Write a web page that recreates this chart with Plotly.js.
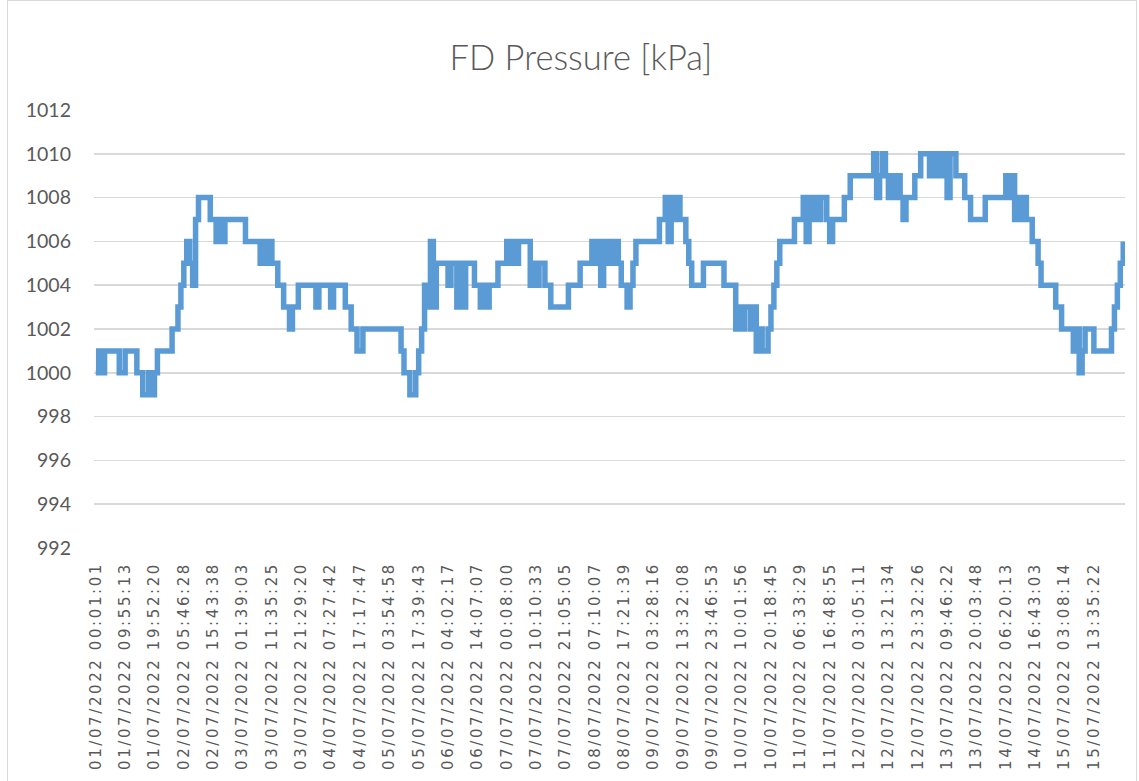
<!DOCTYPE html>
<html>
<head>
<meta charset="utf-8">
<script src="https://cdn.plot.ly/plotly-3.0.1.min.js"></script>
<style>
  html, body { margin: 0; padding: 0; background: #ffffff; }
  #chart { position: absolute; left: 0; top: 0; width: 1139px; height: 781px; }
  #frame { position: absolute; left: 7px; top: 0px; width: 1130px; height: 790px;
           border: 1px solid #d9d9d9; box-sizing: border-box; pointer-events: none; }
  .xtick text { letter-spacing: 2.6px; }
</style>
</head>
<body>
<div id="chart"></div>
<div id="frame"></div>
<script>
// Category tick labels (one every 10 samples)
const tickLabels = [
  "01/07/2022 00:01:01", "01/07/2022 09:55:13", "01/07/2022 19:52:20",
  "02/07/2022 05:46:28", "02/07/2022 15:43:38", "03/07/2022 01:39:03",
  "03/07/2022 11:35:25", "03/07/2022 21:29:20", "04/07/2022 07:27:42",
  "04/07/2022 17:17:47", "05/07/2022 03:54:58", "05/07/2022 17:39:43",
  "06/07/2022 04:02:17", "06/07/2022 14:07:07", "07/07/2022 00:08:00",
  "07/07/2022 10:10:33", "07/07/2022 21:05:05", "08/07/2022 07:10:07",
  "08/07/2022 17:21:39", "09/07/2022 03:28:16", "09/07/2022 13:32:08",
  "09/07/2022 23:46:53", "10/07/2022 10:01:56", "10/07/2022 20:18:45",
  "11/07/2022 06:33:29", "11/07/2022 16:48:55", "12/07/2022 03:05:11",
  "12/07/2022 13:21:34", "12/07/2022 23:32:26", "13/07/2022 09:46:22",
  "13/07/2022 20:03:48", "14/07/2022 06:20:13", "14/07/2022 16:43:03",
  "15/07/2022 03:08:14", "15/07/2022 13:35:22"
];
const samplesPerLabel = 10;

// FD pressure samples [kPa]
const pressure = [
  1000,1001,1000,1001,1001,1001,1001,1001,1000,1000,
  1001,1001,1001,1001,1000,1000,999,999,1000,999,
  1000,1001,1001,1001,1001,1001,1002,1002,1003,1004,
  1005,1006,1005,1004,1007,1008,1008,1008,1008,1007,
  1007,1006,1007,1006,1007,1007,1007,1007,1007,1007,
  1007,1006,1006,1006,1006,1006,1005,1006,1005,1006,
  1005,1005,1004,1004,1003,1003,1002,1003,1003,1004,
  1004,1004,1004,1004,1004,1003,1004,1004,1004,1004,
  1003,1004,1004,1004,1004,1003,1003,1002,1002,1001,
  1001,1002,1002,1002,1002,1002,1002,1002,1002,1002,
  1002,1002,1002,1002,1001,1000,1000,999,999,1000,
  1001,1002,1004,1003,1006,1003,1005,1005,1005,1005,
  1004,1005,1005,1003,1005,1003,1005,1005,1005,1004,
  1004,1003,1004,1003,1004,1004,1004,1005,1005,1005,
  1006,1005,1006,1005,1006,1006,1006,1006,1004,1005,
  1004,1005,1005,1004,1004,1003,1003,1003,1003,1003,
  1003,1004,1004,1004,1004,1005,1005,1005,1005,1006,
  1005,1006,1004,1006,1005,1006,1005,1006,1005,1004,
  1004,1003,1004,1005,1006,1006,1006,1006,1006,1006,
  1006,1006,1007,1007,1008,1006,1008,1007,1008,1007,
  1007,1006,1005,1004,1004,1004,1004,1005,1005,1005,
  1005,1005,1005,1005,1004,1004,1004,1004,1002,1003,
  1002,1003,1003,1002,1003,1001,1002,1001,1001,1002,
  1003,1004,1005,1006,1006,1006,1006,1006,1007,1007,
  1007,1008,1006,1008,1007,1008,1007,1008,1008,1007,
  1006,1007,1007,1007,1007,1008,1008,1009,1009,1009,
  1009,1009,1009,1009,1009,1010,1008,1009,1010,1009,
  1008,1009,1008,1009,1008,1007,1008,1008,1008,1009,
  1009,1010,1010,1010,1009,1010,1009,1010,1009,1010,
  1008,1010,1010,1009,1009,1009,1008,1008,1007,1007,
  1007,1007,1007,1008,1008,1008,1008,1008,1008,1008,
  1009,1008,1009,1007,1008,1007,1008,1007,1007,1006,
  1006,1005,1004,1004,1004,1004,1004,1003,1003,1002,
  1002,1002,1002,1001,1002,1000,1001,1002,1002,1002,
  1001,1001,1001,1001,1001,1001,1002,1003,1004,1005,
  1006
];

const yTicks = [992, 994, 996, 998, 1000, 1002, 1004, 1006, 1008, 1010, 1012];

const sampleIndex = pressure.map((_, i) => i);
const tickPositions = tickLabels.map((_, k) => k * samplesPerLabel);

const trace = {
  x: sampleIndex,
  y: pressure,
  type: 'scatter',
  mode: 'lines',
  line: { color: '#5b9bd5', width: 5.5, shape: 'hv' },
  hoverinfo: 'skip'
};

const layout = {
  width: 1139,
  height: 781,
  paper_bgcolor: '#ffffff',
  plot_bgcolor: '#ffffff',
  showlegend: false,
  margin: { l: 94, r: 14, t: 110, b: 233 },
  title: {
    text: 'FD Pressure [kPa]',
    font: { family: 'Lato, "Open Sans", sans-serif', size: 34.5, color: '#595959', weight: 300 },
    x: 0.51, xref: 'container', xanchor: 'center',
    y: 0.926, yref: 'container', yanchor: 'middle'
  },
  xaxis: {
    range: [-0.6, pressure.length - 1 + 0.6],
    tickmode: 'array',
    tickvals: tickPositions,
    ticktext: tickLabels,
    tickangle: -90,
    ticks: '',
    showgrid: false,
    zeroline: false,
    showline: false,
    ticklabelstandoff: 10,
    tickfont: { family: '"DejaVu Sans", Lato, sans-serif', size: 15, color: '#595959' },
    fixedrange: true
  },
  yaxis: {
    range: [992, 1012],
    tickmode: 'array',
    tickvals: yTicks,
    ticktext: yTicks.map(String),
    ticks: '',
    showgrid: true,
    gridcolor: '#d9d9d9',
    gridwidth: 1.5,
    zeroline: false,
    showline: false,
    ticklabelstandoff: 22,
    tickfont: { family: 'Lato, "Open Sans", sans-serif', size: 19.5, color: '#595959' },
    fixedrange: true
  }
};

Plotly.newPlot('chart', [trace], layout, { staticPlot: true, displayModeBar: false });
</script>
</body>
</html>
